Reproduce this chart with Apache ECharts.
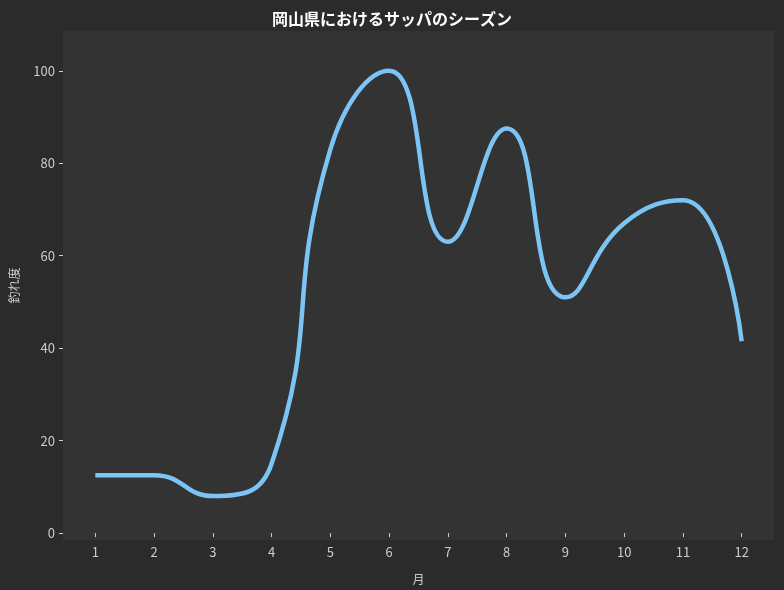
<!DOCTYPE html>
<html>
<head>
<meta charset="utf-8">
<script src="https://cdn.jsdelivr.net/npm/echarts@6/dist/echarts.min.js"></script>
<style>
    html, body { margin: 0; padding: 0; background: #2b2b2b; }
    #chart { width: 784px; height: 590px; }
</style>
</head>
<body>
<div id="chart"></div>
<script>
// monthly values
const months = [1, 2, 3, 4, 5, 6, 7, 8, 9, 10, 11, 12]
const catchLevel = [12.5, 12.5, 8, 15, 83, 100, 63, 87.5, 51, 67, 72, 41.5]
const yTicks = [0, 20, 40, 60, 80, 100]

const font = '"Noto Sans CJK JP", "Noto Sans", sans-serif'

let chart = echarts.init(document.querySelector('#chart'))

let option = {
    backgroundColor: '#2b2b2b',
    animation: false,
    title: {
        text: '岡山県におけるサッパのシーズン',
        left: 'center',
        top: 6,
        textStyle: {
            color: '#ffffff',
            fontSize: 16,
            fontWeight: 'bold',
            fontFamily: font
        }
    },
    grid: {
        left: 61,
        right: 10,
        top: 31,
        bottom: 50,
        show: true,
        backgroundColor: '#333333',
        borderWidth: 0
    },
    xAxis: {
        type: 'value',
        min: 0.45,
        max: 12.55,
        name: '月',
        nameLocation: 'middle',
        nameGap: 33,
        nameTextStyle: { color: '#cccccc', fontSize: 12, fontFamily: font },
        axisLine: { show: false },
        splitLine: { show: false },
        axisTick: {
            show: true,
            customValues: months,
            length: 4,
            lineStyle: { color: '#cccccc' }
        },
        axisLabel: {
            customValues: months,
            color: '#cccccc',
            fontSize: 13,
            margin: 6,
            fontFamily: font
        }
    },
    yAxis: {
        type: 'value',
        min: -1.5,
        max: 108.6,
        name: '釣れ度',
        nameLocation: 'middle',
        nameGap: 43,
        nameRotate: 90,
        nameTextStyle: { color: '#cccccc', fontSize: 12, fontFamily: font },
        axisLine: { show: false },
        splitLine: { show: false },
        axisTick: {
            show: true,
            customValues: yTicks,
            length: 4,
            lineStyle: { color: '#cccccc' }
        },
        axisLabel: {
            customValues: yTicks,
            color: '#cccccc',
            fontSize: 13,
            margin: 8,
            fontFamily: font
        }
    },
    series: [{
        type: 'line',
        data: months.map((m, i) => [m, catchLevel[i]]),
        smooth: 0.5,
        showSymbol: false,
        lineStyle: {
            color: '#7bc4f4',
            width: 4.5
        }
    }]
}

chart.setOption(option)
</script>
</body>
</html>
